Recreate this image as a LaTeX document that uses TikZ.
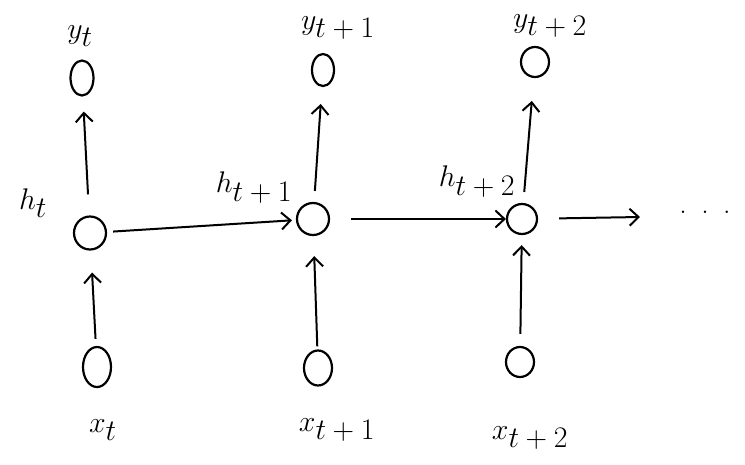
\documentclass[tikz,border=0pt]{standalone}
\usetikzlibrary{arrows.meta,shapes.geometric}
\newcommand\mylab[2]{$#1_{\textstyle #2}$}
\begin{document}
\begin{tikzpicture}[x=1pt,y=-1pt,
  unit/.style={draw,ellipse,line width=2.2pt,inner sep=0pt},
  lab/.style={font=\fontsize{24.88}{28}\selectfont,inner sep=0pt,scale=1.2},
  conn/.style={line width=2pt,-{Straight Barb[length=9pt,width=17pt,line width=2pt]}}]
\useasboundingbox (0,0) rectangle (745,464);
% units
\node[unit,minimum width=23pt,minimum height=35pt] (y1) at (82,78) {};
\node[unit,minimum width=32pt,minimum height=33pt] (h1) at (90,233) {};
\node[unit,minimum width=28pt,minimum height=40pt] (x1) at (97,367) {};
\node[unit,minimum width=22pt,minimum height=32pt] (y2) at (323,70) {};
\node[unit,minimum width=32pt,minimum height=32pt] (h2) at (313,219) {};
\node[unit,minimum width=28pt,minimum height=35pt] (x2) at (318,368) {};
\node[unit,minimum width=28pt,minimum height=30pt] (y3) at (535,62) {};
\node[unit,minimum width=30pt,minimum height=30pt] (h3) at (522,219) {};
\node[unit,minimum width=28pt,minimum height=30pt] (x3) at (520,362) {};
\coordinate (hend) at (640,217);
% labels
\node[lab] (ly1) at (80,36) {\mylab{y}{t}};
\node[lab] (ly2) at (338,28) {\mylab{y}{t+1}};
\node[lab] (ly3) at (550,26) {\mylab{y}{t+2}};
\node[lab] (lh1) at (33,203) {\mylab{h}{t}};
\node[lab] (lh2) at (254,188) {\mylab{h}{t+1}};
\node[lab] (lh3) at (477,182) {\mylab{h}{t+2}};
\node[lab] (lx1) at (103,430) {\mylab{x}{t}};
\node[lab] (lx2) at (337,430) {\mylab{x}{t+1}};
\node[lab] (lx3) at (530,438) {\mylab{x}{t+2}};
\node[lab] (dots) at (705,212) {.\hspace{12pt}.\hspace{12pt}.};
% connectors
\draw[conn,shorten <=7pt,shorten >=22pt] (x1) -- (h1);
\draw[conn,shorten <=21pt,shorten >=15pt] (h1) -- (y1);
\draw[conn,shorten <=3pt,shorten >=20pt] (x2) -- (h2);
\draw[conn,shorten <=11pt,shorten >=17pt] (h2) -- (y2);
\draw[conn,shorten <=12pt,shorten >=10pt] (x3) -- (h3);
\draw[conn,shorten <=11pt,shorten >=23pt] (h3) -- (y3);
\draw[conn,shorten <=6pt,shorten >=4pt] (h1) -- (h2);
\draw[conn,shorten <=21pt,shorten >=0pt] (h2) -- (h3);
\draw[conn,shorten <=21pt] (h3) -- (hend);
\end{tikzpicture}
\end{document}
